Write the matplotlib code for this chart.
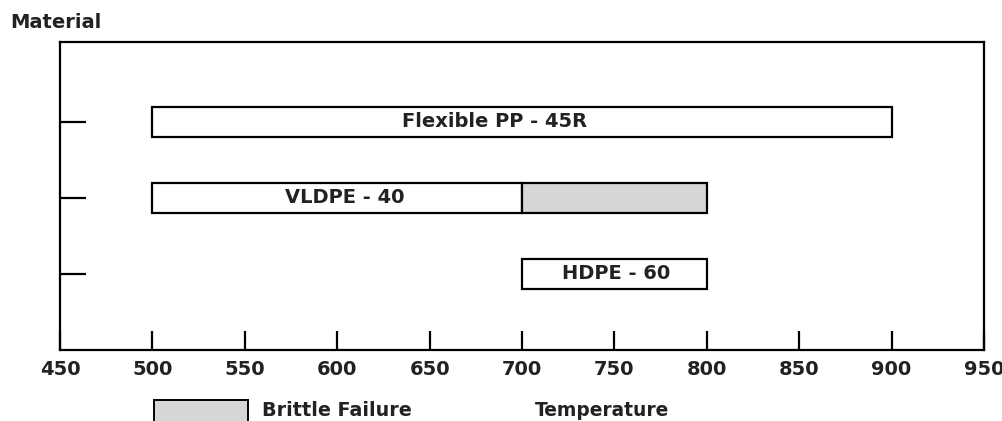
import matplotlib
matplotlib.use("Agg")
import matplotlib.pyplot as plt
from matplotlib.patches import Rectangle

materials = ["Flexible PP - 45R", "VLDPE - 40", "HDPE - 60"]
positions = [3, 2, 1]
ductile_start = [500, 500, 700]
ductile_end = [900, 700, 800]
brittle_start = [None, 700, None]
brittle_end = [None, 800, None]
xticks = [450, 500, 550, 600, 650, 700, 750, 800, 850, 900, 950]

W, H = 1003, 421
fig = plt.figure(figsize=(W / 100, H / 100), dpi=100)
L, R, T, B = 60, 984, 42, 350
ax = fig.add_axes([L / W, (H - B) / H, (R - L) / W, (B - T) / H])

FONT = "DejaVu Sans"
TXT = "#222222"
gray = "#d6d6d6"
bh = 0.4
label_shift = [-15, 4, 1]
for name, y, s, e, bs, be, dx in zip(materials, positions, ductile_start, ductile_end,
                                     brittle_start, brittle_end, label_shift):
    ax.barh(y, e - s, left=s, height=bh, color="white", edgecolor="black", linewidth=1.6)
    if bs is not None:
        ax.barh(y, be - bs, left=bs, height=bh, color=gray, edgecolor="black", linewidth=1.6)
    ax.text((s + e) / 2 + dx, y, name, ha="center", va="center", fontsize=14,
            fontweight="bold", family=FONT, color=TXT)

ax.set_xlim(450, 950)
ax.set_ylim(0, 4.05)
ax.set_xticks(xticks)
ax.set_xticklabels([str(t) for t in xticks])
ax.set_yticks(positions)
ax.set_yticklabels([])
ax.tick_params(axis="x", direction="in", length=14, width=1.6, pad=7.5, labelsize=14)
ax.tick_params(axis="y", direction="in", length=19, width=1.6)
for lab in ax.get_xticklabels():
    lab.set_fontweight("bold")
    lab.set_family(FONT)
    lab.set_color(TXT)
for sp in ax.spines.values():
    sp.set_linewidth(1.6)

fig.text(10 / W, 1 - 22 / H, "Material", ha="left", va="center", fontsize=14,
         fontweight="bold", family=FONT, color=TXT)

# legend patch
fig.patches.append(Rectangle((154 / W, 1 - 440 / H), (248 - 154) / W, 40 / H,
                             transform=fig.transFigure, facecolor=gray,
                             edgecolor="black", linewidth=1.4))
fig.text(262 / W, 1 - 411 / H, "Brittle Failure", ha="left", va="center", fontsize=13.8,
         fontweight="bold", family=FONT, color=TXT)
fig.text(535 / W, 1 - 411 / H, "Temperature", ha="left", va="center", fontsize=13.4,
         fontweight="bold", family=FONT, color=TXT)

fig.savefig("out.png", dpi=100)
